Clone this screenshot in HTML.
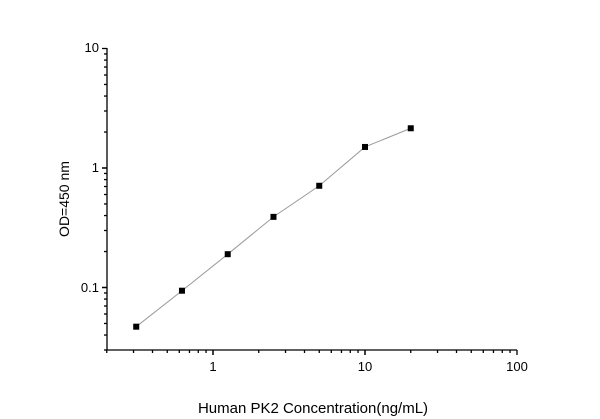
<!DOCTYPE html>
<html><head><meta charset="utf-8"><style>
html,body{margin:0;padding:0;background:#fff;}
svg{display:block;font-family:"Liberation Sans",Arial,sans-serif;}
</style></head><body>
<svg id="s" width="600" height="419" viewBox="0 0 600 419" xmlns="http://www.w3.org/2000/svg">
<rect width="600" height="419" fill="#fff"/>
<g id="g" stroke="#000" stroke-width="1.3" fill="none"></g>
<g font-size="13" fill="#000">
<text x="99" y="52" text-anchor="end">10</text>
<text x="99" y="172" text-anchor="end">1</text>
<text x="99" y="292" text-anchor="end">0.1</text>
<text x="213" y="371" text-anchor="middle">1</text>
<text x="365" y="371" text-anchor="middle">10</text>
<text x="517" y="371" text-anchor="middle">100</text>
<text x="313" y="413" text-anchor="middle" font-size="15">Human PK2 Concentration(ng/mL)</text>
<text transform="translate(69,199) rotate(-90)" text-anchor="middle" font-size="14">OD=450 nm</text>
</g>
<g id="d"></g>
</svg>
<script>
var ns="http://www.w3.org/2000/svg",g=document.getElementById('g'),d=document.getElementById('d');
function L(p,x1,y1,x2,y2,c,w){var l=document.createElementNS(ns,'line');l.setAttribute('x1',x1);l.setAttribute('y1',y1);l.setAttribute('x2',x2);l.setAttribute('y2',y2);if(c)l.setAttribute('stroke',c);if(w)l.setAttribute('stroke-width',w);p.appendChild(l);}
var X=function(v){return 213+152*Math.log10(v)},Y=function(v){return 168-119.5*Math.log10(v)};
var x0=107,y0=350;
L(g,x0,48,x0,y0);L(g,x0,y0,517,y0);
[0.01,0.1,1].forEach(function(b){for(var k=1;k<=10;k++){var y=Y(b*k);if(y>y0+0.5||y<47)continue;L(g,x0,y,x0-(k==1||k==10?5:3),y);}});
[0.1,1,10].forEach(function(b){for(var k=1;k<=10;k++){var x=X(b*k);if(x<x0-0.5||x>518)continue;L(g,x,y0,x,y0+(k==1||k==10?5:3));}});
var pts=[[0.3125,0.047],[0.625,0.094],[1.25,0.19],[2.5,0.39],[5,0.71],[10,1.5],[20,2.15]];
var pl=document.createElementNS(ns,'polyline');pl.setAttribute('points',pts.map(function(p){return X(p[0])+','+Y(p[1])}).join(' '));pl.setAttribute('fill','none');pl.setAttribute('stroke','#999');pl.setAttribute('stroke-width','1');d.appendChild(pl);
pts.forEach(function(p){var r=document.createElementNS(ns,'rect');r.setAttribute('x',X(p[0])-3);r.setAttribute('y',Y(p[1])-3);r.setAttribute('width',6);r.setAttribute('height',6);r.setAttribute('fill','#000');d.appendChild(r);});
</script>
</body></html>
